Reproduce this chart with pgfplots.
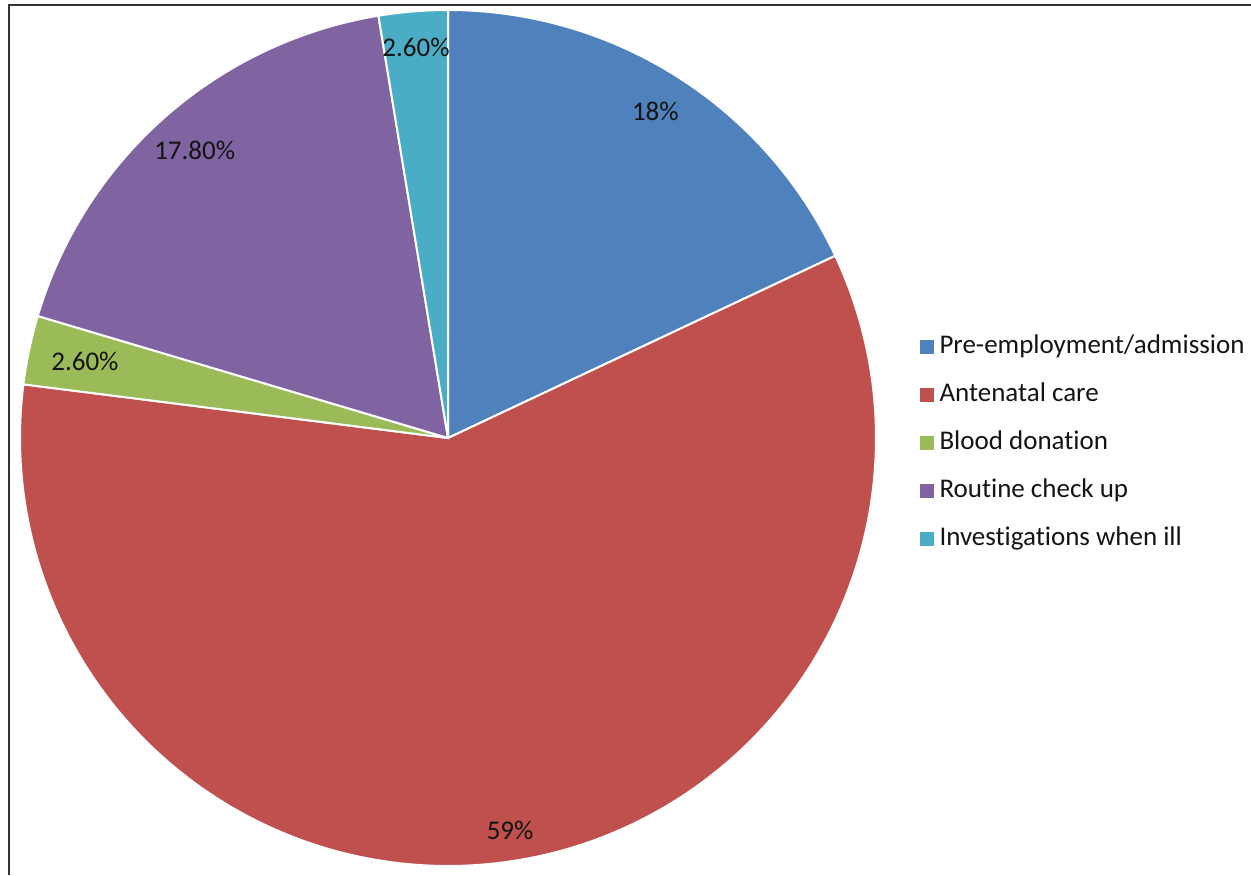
\documentclass[border=0pt]{standalone}
\usepackage{fontspec}
\setmainfont{Carlito}[Ligatures=NoCommon]
\usepackage{pgfplots}
\pgfplotsset{compat=1.18}
\definecolor{cA}{HTML}{4F81BD}
\definecolor{cB}{HTML}{C0504D}
\definecolor{cC}{HTML}{9BBB59}
\definecolor{cD}{HTML}{8064A2}
\definecolor{cE}{HTML}{4BACC6}
\definecolor{txt}{HTML}{141414}
% data (percent)
\def\vA{18}
\def\vB{59}
\def\vC{2.6}
\def\vD{17.8}
\def\vE{2.6}
\pgfmathsetmacro\aA{90}
\pgfmathsetmacro\aB{\aA-3.6*\vA}
\pgfmathsetmacro\aC{\aB-3.6*\vB}
\pgfmathsetmacro\aD{\aC-3.6*\vC}
\pgfmathsetmacro\aE{\aD-3.6*\vD}
\pgfmathsetmacro\aF{\aE-3.6*\vE}
\pgfmathsetmacro\mA{(\aA+\aB)/2}
\pgfmathsetmacro\mB{(\aB+\aC)/2}
\pgfmathsetmacro\mC{(\aC+\aD)/2}
\pgfmathsetmacro\mD{(\aD+\aE)/2}
\pgfmathsetmacro\mE{(\aE+\aF)/2}
\def\cx{448}
\def\cy{437}
\def\R{428}
\begin{document}
\begin{tikzpicture}
\begin{axis}[
  scale only axis, width=625.5pt, height=437.5pt,
  xmin=0, xmax=1251, ymin=0, ymax=875,
  hide axis, clip=false,
  legend image code/.code={\fill[#1] (0pt,-3.9pt) rectangle (7.8pt,3.9pt);},
  legend style={draw=none, fill=none, inner sep=0pt, at={(axis cs:918,541)}, anchor=north west,
    font=\fontsize{13.5}{16}\selectfont, text=txt,
    nodes={text height=9.5pt, text depth=3pt, inner sep=0pt, inner xsep=1.75pt},
    row sep=11.5pt},
  legend cell align=left,
]
\addplot[fill=cA, draw=white, line width=1pt, domain=\aB:\aA, samples=80, variable=\t]
  ({\cx+\R*cos(\t)},{\cy+\R*sin(\t)}) -- (axis cs:\cx,\cy) -- cycle;
\addlegendentry{Pre-employment/admission}
\addplot[fill=cB, draw=white, line width=1pt, domain=\aC:\aB, samples=200, variable=\t]
  ({\cx+\R*cos(\t)},{\cy+\R*sin(\t)}) -- (axis cs:\cx,\cy) -- cycle;
\addlegendentry{Antenatal care}
\addplot[fill=cC, draw=white, line width=1pt, domain=\aD:\aC, samples=20, variable=\t]
  ({\cx+\R*cos(\t)},{\cy+\R*sin(\t)}) -- (axis cs:\cx,\cy) -- cycle;
\addlegendentry{Blood donation}
\addplot[fill=cD, draw=white, line width=1pt, domain=\aE:\aD, samples=80, variable=\t]
  ({\cx+\R*cos(\t)},{\cy+\R*sin(\t)}) -- (axis cs:\cx,\cy) -- cycle;
\addlegendentry{Routine check up}
\addplot[fill=cE, draw=white, line width=1pt, domain=\aF:\aE, samples=20, variable=\t]
  ({\cx+\R*cos(\t)},{\cy+\R*sin(\t)}) -- (axis cs:\cx,\cy) -- cycle;
\addlegendentry{Investigations when ill}
% frame (top and left edges)
\draw[line width=1.2pt, color=black!80] (axis cs:9,0) -- (axis cs:9,870) -- (axis cs:1251,870);
% data labels
\begin{scope}[every node/.style={font=\fontsize{13.5}{16}\selectfont, text=txt, inner sep=0pt}]
\node at (axis cs:{\cx+387*cos(\mA)},{\cy+387*sin(\mA)}) {18\%};
\node at (axis cs:{\cx+397*cos(\mB)},{\cy+397*sin(\mB)}) {59\%};
\node at (axis cs:{\cx+371*cos(\mC)},{\cy+371*sin(\mC)}) {2.60\%};
\node at (axis cs:{\cx+383*cos(\mD)},{\cy+383*sin(\mD)}) {17.80\%};
\node at (axis cs:{\cx+392*cos(\mE)},{\cy+392*sin(\mE)}) {2.60\%};
\end{scope}
\end{axis}
\pgfresetboundingbox
\useasboundingbox (0,0) rectangle (625.5pt,437.5pt);
\end{tikzpicture}
\end{document}
